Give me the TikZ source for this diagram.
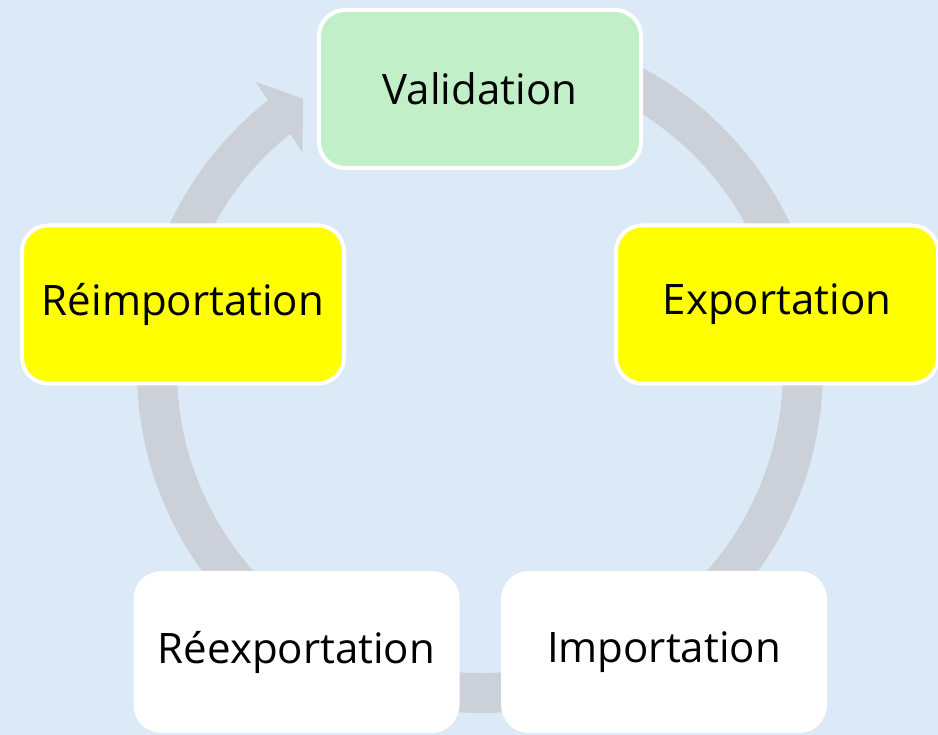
\documentclass[tikz,border=0pt]{standalone}
\usepackage{fontspec}
\setmainfont{Open Sans}
\definecolor{bgblue}{RGB}{220,233,246}
\definecolor{ringgrey}{RGB}{204,208,216}
\definecolor{valgreen}{RGB}{193,240,200}
\definecolor{boxyellow}{RGB}{255,255,0}
\tikzset{
  stagebox/.style={rounded corners=26pt, draw=white, line width=4pt,
    minimum width=322pt, minimum height=158pt, inner sep=0pt,
    font=\fontsize{42}{50}\selectfont, text=black},
  ringline/.style={draw=ringgrey, line width=40pt},
}
\begin{document}
\begin{tikzpicture}[x=1pt,y=1pt]
\fill[bgblue] (0,0) rectangle (938,735);
\useasboundingbox (0,0) rectangle (938,735);
\coordinate (c) at (480,365);
% ring arrow
\draw[ringline] ([shift={(80:323)}]c) arc[start angle=80, end angle=-232, radius=323];
\coordinate (wo) at ([shift={(127.9:365)}]c);
\coordinate (tip) at ([shift={(123.1:324)}]c);
\coordinate (wi) at ([shift={(129.2:281)}]c);
\fill[ringgrey] (wo) -- (tip) -- (wi) -- cycle;
% stages
\node[stagebox, fill=valgreen] (val) at (480,646) {Validation};
\node[stagebox, fill=boxyellow] (exp) at (777,430.5) {Exportation};
\node[stagebox, fill=white] (imp) at (664,83) {Importation};
\node[stagebox, fill=white] (reexp) at (296.5,83) {Réexportation};
\node[stagebox, fill=boxyellow] (reimp) at (183,430.5) {Réimportation};
\end{tikzpicture}
\end{document}
